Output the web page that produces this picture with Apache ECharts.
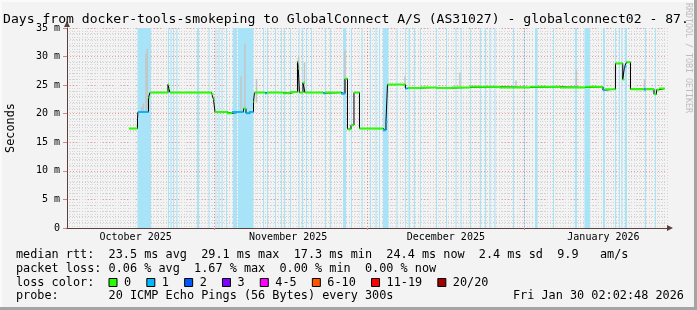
<!DOCTYPE html>
<html><head><meta charset="utf-8">
<script src="https://cdn.jsdelivr.net/npm/echarts@6/dist/echarts.min.js"></script>
<style>
html,body{margin:0;padding:0;background:#f3f3f3;}
#c{width:697px;height:310px;position:relative;background:#f3f3f3;box-shadow:inset -3px -3px 0 #a4a4a4, inset 2px 2px 0 #fafafa;}
</style></head><body><div id="c"></div>
<script>
// x values are days since 2025-10-01 00:00
const xMin = 2, xMax = 120;
const monthStarts = [31, 61, 92];
const monthLabelDays = [15.5, 45.5, 76.5, 107.5];
const monthLabels = ['October 2025', 'November 2025', 'December 2025', 'January 2026'];
const yMax = 35, yStep = 5;

// median RTT (ms) as steps: segment i runs from segStart[i] to segEnd[i]
const firstDay = 14.19;
const segEnd = [15.86,15.96,18.03,18.32,21.86,22.06,22.26,30.42,30.81,31.11,
  33.47,34.45,36.71,37.20,37.79,38.68,38.87,40.94,41.33,44.47,
  45.85,47.33,47.48,47.72,48.41,48.80,52.34,52.74,55.89,56.67,
  57.16,57.85,58.44,59.52,64.14,64.73,65.03,68.57,68.96,71.42,
  74.57,77.71,81.25,87.15,93.05,98.95,103.87,107.41,107.80,109.86,
  111.30,111.64,112.03,112.82,115.47,115.86,117.44,117.93,118.42,119.60];
const segRtt = [17.4,19.1,20.3,22.8,23.7,25.1,24.4,23.7,23.4,22.5,
  20.3,20.1,20.3,20.9,20.1,20.3,22.1,23.7,23.6,23.7,
  23.6,23.8,29.1,27.9,23.7,25.4,23.7,23.6,23.7,23.5,
  26.1,17.3,18.0,23.7,17.4,17.1,18.6,25.1,24.4,24.5,
  24.6,24.5,24.6,24.7,24.6,24.7,24.6,24.7,24.1,24.3,
  28.8,26.0,28.2,29.0,24.3,24.2,24.3,23.4,24.2,24.4];
const segLoss = [0,0,1,0,0,0,0,0,0,0,
  0,0,1,0,1,1,0,0,1,0,
  0,0,0,0,0,0,0,1,0,1,
  0,0,0,0,0,1,1,0,1,0,
  0,0,0,0,0,0,0,0,1,0,
  0,0,1,0,0,1,0,0,0,0];

// packet loss periods (full height shading)
const lossStart = [15.86,21.86,22.35,22.85,23.53,27.57,29.83,31.20,31.79,32.38,33.27,34.65,35.63,40.55,41.33,42.91,44.09,44.68,45.85,47.53,48.22,49.00,49.98,52.74,53.72,56.28,57.85,59.92,61.59,62.67,63.36,64.14,66.80,68.47,69.16,70.24,71.42,74.57,76.53,78.40,79.39,81.25,83.22,84.20,85.09,86.07,89.71,91.87,94.04,97.58,101.90,103.77,107.41,109.77,110.55,111.04,111.73,115.67,117.63];
const lossEnd   = [18.52,22.06,22.55,23.04,23.73,27.96,30.02,31.40,31.99,32.58,33.47,35.43,38.68,40.75,41.53,43.10,44.28,44.88,46.05,47.72,48.41,49.20,50.18,52.94,53.92,56.87,58.05,60.11,61.79,62.87,63.56,65.23,66.99,68.67,69.45,70.44,71.62,74.76,76.73,78.60,79.59,81.45,83.42,84.40,85.29,86.27,89.91,92.07,94.53,97.77,102.29,104.85,107.80,109.96,110.75,111.24,112.13,115.86,117.83];

// smoke (ping spread) spikes
const smokeDay  = [16.69,17.01,17.54,17.79,36.22,37.00,39.27,47.53,48.71,56.67,68.47,79.29,90.30,102.19,115.57];
const smokeLow  = [20.3,20.3,20.3,20.3,20.3,20.9,22.0,23.7,23.7,23.7,24.5,24.6,24.7,24.7,24.3];
const smokeHigh = [21.2,21.8,30.5,31.4,26.5,32.3,26.1,29.9,29.0,31.1,26.6,27.2,25.8,27.6,26.0];

const lossNames  = ['0','1','2','3','4-5','6-10','11-19','20/20'];
const lossColors = ['#26ff00','#00b8ff','#0059ff','#7e00ff','#ff00ff','#ff5500','#ff0000','#a10000'];

const statsLine1 = 'median rtt:  23.5 ms avg  29.1 ms max  17.3 ms min  24.4 ms now  2.4 ms sd  9.9   am/s';
const statsLine2 = 'packet loss: 0.06 % avg  1.67 % max  0.00 % min  0.00 % now';
const lossLabel = 'loss color:';
const probeLine = 'probe:       20 ICMP Echo Pings (56 Bytes) every 300s';
const stampText = 'Fri Jan 30 02:02:48 2026';
const titleText = 'Days from docker-tools-smokeping to GlobalConnect A/S (AS31027) - globalconnect02 - 87.';

const MONO = 'DejaVu Sans Mono';
const segStart = [firstDay].concat(segEnd.slice(0, -1));

const blackData = [];
segRtt.forEach((v, i) => { blackData.push([segStart[i], v], [segEnd[i], v]); });

const lossSeries = lossNames.map((name, L) => {
  const d = [];
  segRtt.forEach((v, i) => {
    if (segLoss[i] === L) { d.push([segStart[i], v], [segEnd[i], v], [segEnd[i], '-']); }
  });
  return { name, type: 'line', data: d, color: lossColors[L], showSymbol: false, symbol: 'none',
    lineStyle: { width: 2, color: lossColors[L] }, connectNulls: false, z: 5, silent: true, animation: false };
});

const chart = echarts.init(document.getElementById('c'), null, { renderer: 'canvas' });
const statTitle = (text, left, top) => ({ text, left, top, padding: 0,
  textStyle: { fontFamily: MONO, fontSize: 11.84, fontWeight: 'normal', color: '#000', lineHeight: 14 } });

chart.setOption({
  animation: false,
  title: [
    { text: titleText, left: 3, top: 12, padding: 0,
      textStyle: { fontFamily: MONO, fontSize: 13.1, fontWeight: 'normal', color: '#000', lineHeight: 16 } },
    statTitle(statsLine1, 16, 248),
    statTitle(statsLine2, 16, 261.5),
    statTitle(lossLabel, 16, 275.5),
    statTitle(probeLine, 16, 289),
    statTitle(stampText, 513, 289)
  ],
  graphic: [{ type: 'text', x: 688, y: 3, rotation: -Math.PI / 2,
    style: { text: 'RRDTOOL / TOBI OETIKER', fill: '#bdbdbd', font: '8.3px "DejaVu Sans Mono"', textVerticalAlign: 'middle' } }],
  legend: {
    data: lossNames, left: 108.5, top: 275.5, padding: 0, itemWidth: 8, itemHeight: 8, itemGap: 15.2,
    icon: 'rect', selectedMode: false,
    itemStyle: { borderColor: '#000', borderWidth: 1 },
    textStyle: { fontFamily: MONO, fontSize: 11.84, color: '#000', padding: [0, 0, 0, 2], lineHeight: 14 }
  },
  grid: { left: 67, top: 28, width: 600, height: 200, containLabel: false, outerBoundsMode: 'none' },
  xAxis: [
    { type: 'value', min: xMin, max: xMax,
      axisLine: { show: true, symbol: ['none', 'triangle'], symbolSize: [6, 6], symbolOffset: [0, 3],
        lineStyle: { color: '#5a4040', width: 1 } },
      axisTick: { show: true, customValues: monthStarts, length: 2, lineStyle: { color: '#e08080' } },
      axisLabel: { customValues: monthLabelDays, margin: 4, fontFamily: MONO, fontSize: 10, color: '#000',
        formatter: v => { let b = 0; monthLabelDays.forEach((m, i) => { if (Math.abs(m - v) < Math.abs(monthLabelDays[b] - v)) b = i; }); return monthLabels[b]; } },
      splitLine: { show: true, lineStyle: { color: 'rgba(230,80,80,0.55)', type: [1, 2], width: 1 } },
      z: 3 },
    { type: 'value', min: xMin, max: xMax, interval: 0.5, position: 'top',
      axisLine: { show: false }, axisTick: { show: false }, axisLabel: { show: false },
      splitLine: { show: true, lineStyle: { color: '#d6d6d6', type: [1, 2], width: 1 } }, z: 0 }
  ],
  yAxis: {
    type: 'value', min: 0, max: yMax, interval: yStep,
    name: 'Seconds', nameLocation: 'middle', nameGap: 50, nameRotate: 90,
    nameTextStyle: { fontFamily: MONO, fontSize: 11.84, color: '#000' },
    axisLine: { show: true, symbol: ['none', 'triangle'], symbolSize: [6, 6], symbolOffset: [0, 4],
      lineStyle: { color: '#5a4040', width: 1 } },
    axisTick: { show: true, length: 4, lineStyle: { color: '#e08080' } },
    axisLabel: { margin: 7, fontFamily: MONO, fontSize: 10, color: '#000',
      formatter: v => v === 0 ? '0' : v + ' m' },
    splitLine: { show: true, lineStyle: { color: 'rgba(230,80,80,0.55)', type: [1, 2], width: 1 } },
    minorTick: { show: false, splitNumber: 5 },
    minorSplitLine: { show: true, lineStyle: { color: '#cdcdcd', type: [1, 2], width: 1 } }
  },
  series: [
    { type: 'custom', silent: true, z: 1, encode: { x: [0, 1] },
      data: lossStart.map((s, i) => [s, lossEnd[i]]),
      renderItem: (params, api) => {
        const p0 = api.coord([api.value(0), yMax]);
        const p1 = api.coord([api.value(1), 0]);
        return { type: 'rect', shape: { x: p0[0], y: p0[1], width: Math.max(1, p1[0] - p0[0]), height: p1[1] - p0[1] },
          style: { fill: '#a9e3f8' } };
      } },
    { type: 'custom', silent: true, z: 2, encode: { x: 0, y: [1, 2] },
      data: smokeDay.map((d, i) => [d, smokeLow[i], smokeHigh[i]]),
      renderItem: (params, api) => {
        const a = api.coord([api.value(0), api.value(1)]);
        const b = api.coord([api.value(0), api.value(2)]);
        return { type: 'line', shape: { x1: a[0], y1: a[1], x2: b[0], y2: b[1] },
          style: { stroke: '#c4c4c4', lineWidth: 1.5 } };
      } },
    { type: 'line', data: blackData, symbol: 'none', showSymbol: false, silent: true, z: 4,
      lineStyle: { color: '#000', width: 1 }, color: '#000' }
  ].concat(lossSeries)
});
</script></body></html>
